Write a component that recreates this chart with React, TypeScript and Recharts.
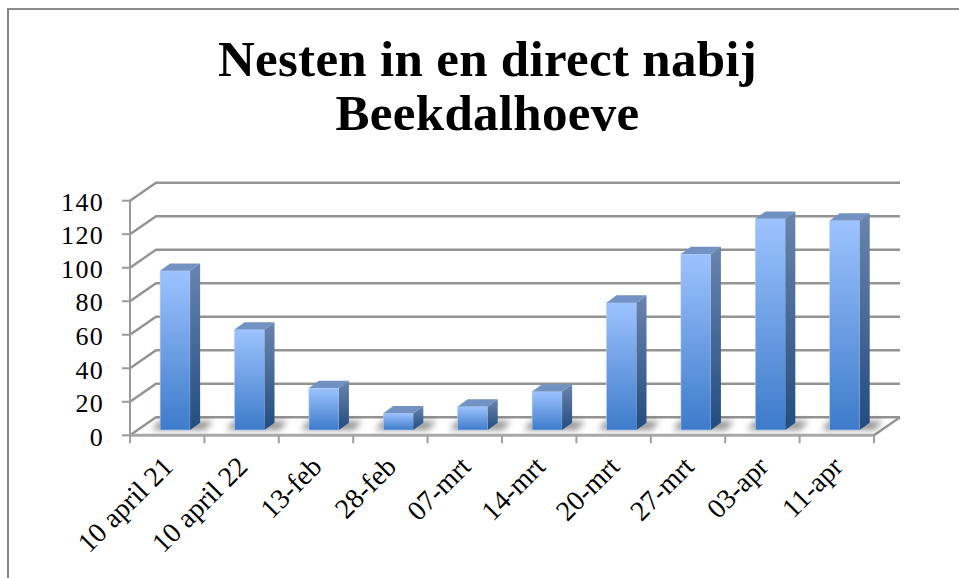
import React from 'react';
import { BarChart, Bar, XAxis, YAxis, CartesianGrid } from 'recharts';

const categories = ['10 april 21', '10 april 22', '13-feb', '28-feb', '07-mrt', '14-mrt', '20-mrt', '27-mrt', '03-apr', '11-apr'];
const nesten = [95, 60, 25, 10, 14, 23, 76, 105, 126, 125];
const yTicks = [0, 20, 40, 60, 80, 100, 120, 140];

const data = categories.map((label, i) => ({ label, nesten: nesten[i] }));

const WIDTH = 959;
const HEIGHT = 578;
const PLOT_LEFT = 130;
const PLOT_RIGHT = 874;
const PLOT_TOP = 200.7;
const PLOT_BOTTOM = 435.3;
const BAND = (PLOT_RIGHT - PLOT_LEFT) / categories.length;

// depth of the fake 3D box
const DEPTH_X = 26;
const DEPTH_Y = 18;
const FONT = '"Liberation Serif", serif';
const GRID = '#939393';

// wall lines: slanted part from the axis plus the line along the back
const GridLine = (props: any) => {
  const { x1, x2, y1, index } = props;
  const isFloor = Math.abs(y1 - PLOT_BOTTOM) < 1;
  const backY = y1 - DEPTH_Y;
  return (
    <g key={`grid-${index}`}>
      {isFloor && (
        <polygon
          points={`${x1},${y1} ${x1 + DEPTH_X},${backY} ${x2 + DEPTH_X},${backY} ${x2},${y1}`}
          fill="#ffffff"
        />
      )}
      <polyline
        points={`${x1},${y1} ${x1 + DEPTH_X},${backY} ${x2 + DEPTH_X},${backY}`}
        fill="none"
        stroke={GRID}
        strokeWidth={2.4}
      />
      {isFloor && <line x1={x2} y1={y1} x2={x2 + DEPTH_X} y2={backY} stroke={GRID} strokeWidth={2.4} />}
    </g>
  );
};

const Box = (props: any) => {
  const { x, y, width, height } = props;
  // bars stand in the middle of the floor, so they sit part way into the depth
  const left = x + 7.8;
  const top = y - 5.3;
  const right = left + width;
  const base = top + height;
  const dx = 10;
  const dy = 7.3;
  return (
    <g>
      <polygon
        points={`${left - 8},${base} ${right + dx + 5},${base} ${right + dx + 13},${base - 9} ${left - 1},${base - 9}`}
        fill="#000"
        fillOpacity={0.42}
        filter="url(#floorShadow)"
      />
      <rect x={left} y={top} width={width} height={height} fill="url(#frontFace)" stroke="#b4cdf0" strokeWidth={0.6} />
      <polygon
        points={`${right},${top} ${right + dx},${top - dy} ${right + dx},${base - dy} ${right},${base}`}
        fill="url(#sideFace)"
      />
      <polygon
        points={`${left},${top} ${left + dx},${top - dy} ${right + dx},${top - dy} ${right},${top}`}
        fill="#7192c2"
      />
    </g>
  );
};

const CategoryTick = (props: any) => {
  const { x, y, payload, index } = props;
  return (
    <g>
      <line x1={x - BAND / 2} y1={PLOT_BOTTOM} x2={x - BAND / 2} y2={PLOT_BOTTOM + 8} stroke="#a0a0a0" strokeWidth={2} />
      {index === categories.length - 1 && (
        <line x1={x + BAND / 2} y1={PLOT_BOTTOM} x2={x + BAND / 2} y2={PLOT_BOTTOM + 8} stroke="#a0a0a0" strokeWidth={2} />
      )}
      <text
        x={x + 7.5}
        y={y + 25}
        textAnchor="end"
        fontFamily={FONT}
        fontSize={28}
        fill="#000"
        transform={`rotate(-45 ${x + 7.5} ${y + 25})`}
      >
        {payload.value}
      </text>
    </g>
  );
};

export default function App() {
  return (
    <div style={{ position: 'absolute', left: 0, top: 0, width: WIDTH, height: HEIGHT, overflow: 'hidden', background: '#fff' }}>
      <div style={{ position: 'absolute', left: 7, top: 8, width: WIDTH, height: HEIGHT, borderLeft: '2px solid #868686', borderTop: '2px solid #8c8c8c' }} />
      <div
        style={{
          position: 'absolute',
          left: 0,
          top: 32,
          width: 975,
          textAlign: 'center',
          fontFamily: FONT,
          fontWeight: 'bold',
          fontSize: 51,
          letterSpacing: 0.3,
          lineHeight: '54px',
          color: '#000',
        }}
      >
        Nesten in en direct nabij
        <br />
        Beekdalhoeve
      </div>
      <div style={{ position: 'absolute', left: 0, top: 0 }}>
        <BarChart
          width={WIDTH}
          height={HEIGHT}
          data={data}
          barCategoryGap="30%"
          margin={{ top: PLOT_TOP, right: WIDTH - PLOT_RIGHT, bottom: 0, left: 70 }}
        >
          <defs>
            <linearGradient id="frontFace" x1="0" y1="0" x2="0" y2="1">
              <stop offset="0%" stopColor="#9dc3ff" />
              <stop offset="100%" stopColor="#3d7bca" />
            </linearGradient>
            <linearGradient id="sideFace" x1="0" y1="0" x2="0" y2="1">
              <stop offset="0%" stopColor="#6a85ae" />
              <stop offset="100%" stopColor="#224c80" />
            </linearGradient>
            <filter id="floorShadow" x="-30%" y="-60%" width="160%" height="220%">
              <feGaussianBlur stdDeviation="3" />
            </filter>
          </defs>
          <CartesianGrid horizontal={GridLine} vertical={false} />
          <XAxis
            dataKey="label"
            interval={0}
            height={HEIGHT - PLOT_BOTTOM}
            axisLine={{ stroke: '#a8a8a8', strokeWidth: 3 }}
            tickLine={false}
            tick={CategoryTick}
          />
          <YAxis
            width={60}
            domain={[0, 140]}
            ticks={yTicks}
            interval={0}
            tickSize={8}
            tickMargin={18}
            axisLine={{ stroke: '#9a9a9a', strokeWidth: 2 }}
            tickLine={{ stroke: '#9a9a9a', strokeWidth: 2 }}
            tick={{ fill: '#000', fontFamily: FONT, fontSize: 26, letterSpacing: 1.3, dy: 1 }}
          />
          <Bar dataKey="nesten" shape={Box} isAnimationActive={false} />
        </BarChart>
      </div>
    </div>
  );
}
